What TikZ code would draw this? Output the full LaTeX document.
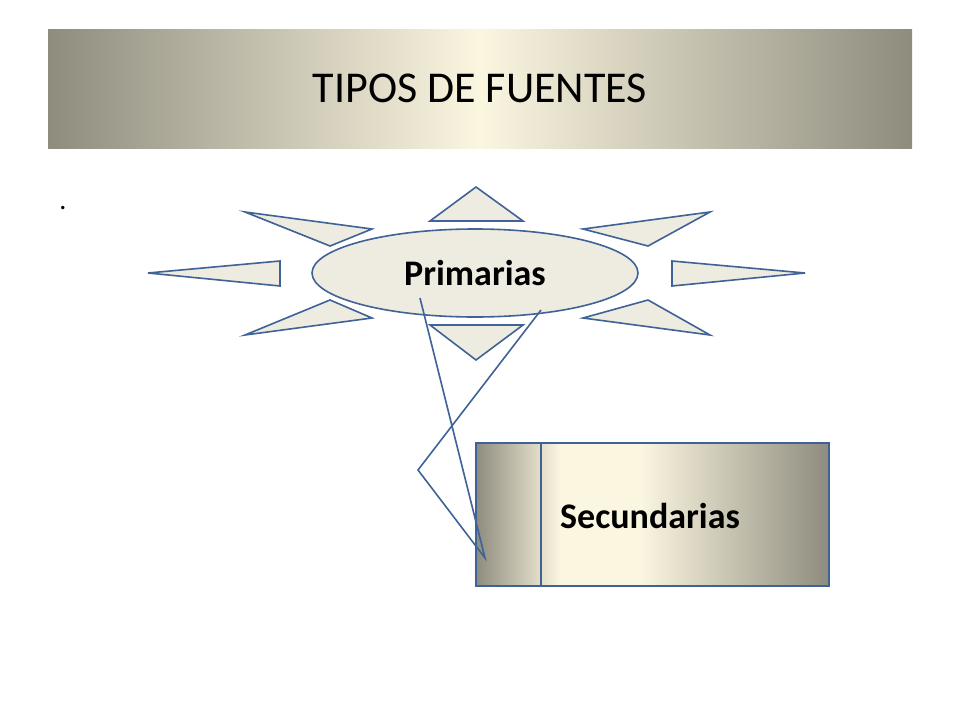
\documentclass[tikz,border=0pt]{standalone}
\usepackage{fontspec}
\setmainfont{Carlito}
\usetikzlibrary{shapes.geometric}
\definecolor{edge}{HTML}{3F6396}
\definecolor{cream}{HTML}{FBF6E0}
\definecolor{greyb}{HTML}{8E8C7E}
\definecolor{fillc}{HTML}{EEEBE0}
\tikzset{ray/.style={draw=edge,line width=1.6pt,fill=fillc,line join=miter},
 conn/.style={draw=edge,line width=1.6pt}}
\begin{document}
\begin{tikzpicture}[x=1pt,y=-1pt]
\useasboundingbox (0,0) rectangle (960,720);
\fill[white] (0,0) rectangle (960,720);
\shade[left color=greyb,right color=greyb,middle color=cream] (48,29) rectangle (912,148);
\node (title) at (480,88) {\fontsize{44}{50}\selectfont TIPOS DE FUENTES};
\node (dot) at (63,208) {\fontsize{28}{30}\selectfont .};
\draw[ray] (430,221)--(523,221)--(476,187)--cycle;
\draw[ray] (148,273)--(280,261)--(280,286)--cycle;
\draw[ray] (672,261)--(672,286)--(805,273)--cycle;
\draw[ray] (245,212)--(372,229)--(330,246)--cycle;
\draw[ray] (710,212)--(583,229)--(648,246)--cycle;
\draw[ray] (245,335)--(372,318)--(330,300)--cycle;
\draw[ray] (710,335)--(583,318)--(648,300)--cycle;
\draw[ray] (430,325)--(523,325)--(476,360)--cycle;
\node[ellipse,draw=edge,line width=1.6pt,fill=fillc,minimum width=326pt,minimum height=88pt] (prim) at (475,273) {};
\node (primt) at (475,273) {\fontsize{36}{40}\selectfont\bfseries Primarias};
\shade[left color=greyb,right color=cream!70!white,middle color=cream] (476,443) rectangle (829,586);
\shade[left color=cream!80!white,right color=greyb] (600,443) rectangle (829,586);
\fill[cream] (560,443) rectangle (640,586);
\shade[left color=greyb,right color=cream] (476,443) rectangle (560,586);
\shade[left color=cream,right color=greyb] (640,443) rectangle (829,586);
\draw[conn] (476,443) rectangle (829,586);
\draw[conn] (541,443)--(541,586);
\node (sec) at (650,516) {\fontsize{36}{40}\selectfont\bfseries Secundarias};
\coordinate (a) at (420,298);
\coordinate (b) at (485,558);
\coordinate (c) at (418,470);
\coordinate (d) at (541,310);
\draw[conn,line join=miter] (a)--(b)--(c)--(d);
\end{tikzpicture}
\end{document}
